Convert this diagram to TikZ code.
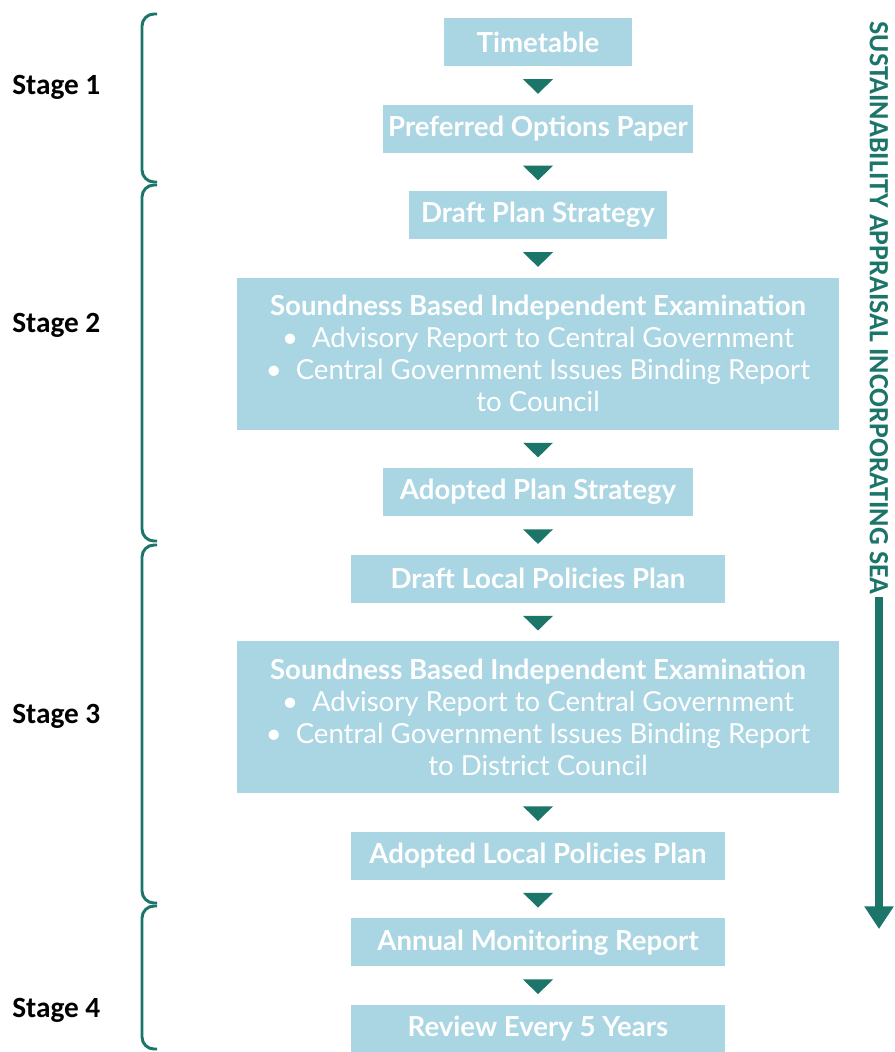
\documentclass[tikz,border=0pt]{standalone}
\usepackage{fontspec}
\setmainfont{Lato}
\newfontfamily\stagefont{Carlito}
\usepackage{tikz}
\usetikzlibrary{positioning,shapes.geometric,arrows.meta}
\definecolor{boxblue}{RGB}{170,213,227}
\definecolor{seateal}{RGB}{27,117,104}
\tikzset{box node/.style={rectangle,fill=boxblue,text=white,inner sep=0pt,minimum height=36pt,align=center,font=\fontsize{20.7}{24}\selectfont\bfseries},
exam node/.style={box node,minimum width=451pt,minimum height=114pt,font=\fontsize{20.7}{24}\selectfont},
flow node/.style={isosceles triangle,isosceles triangle stretches,shape border rotate=270,fill=seateal,inner sep=0pt,minimum width=22.5pt,minimum height=11pt},
stage node/.style={anchor=west,inner sep=0pt,font=\stagefont\bfseries\fontsize{22}{26}\selectfont},
sea node/.style={rotate=-90,inner sep=2pt,text=seateal,font=\stagefont\bfseries\fontsize{20.9}{24}\selectfont},
bracket/.style={draw=seateal,line width=2.2pt,rounded corners=9pt},
}

\begin{document}
\begin{tikzpicture}[x=0.75pt,y=-0.75pt]
\useasboundingbox (0,0) rectangle (894,1052);

% flow boxes
\node[box node,minimum width=141pt] (timetable) at (538,42) {Timetable};
\node[box node,minimum width=233pt] (options) [below=28.5pt of timetable] {Preferred Options Paper};
\node[box node,minimum width=193pt] (draftplan) [below=28.5pt of options] {Draft Plan Strategy};
\node[exam node] (exam1) [below=28.5pt of draftplan] {\textbf{Soundness Based Independent Examination}\\
	\textbullet\enspace Advisory Report to Central Government\\
	\textbullet\enspace Central Government Issues Binding Report\\
	to Council};
\node[box node,minimum width=232pt] (adoptplan) [below=28.5pt of exam1] {Adopted Plan Strategy};
\node[box node,minimum width=281pt] (draftlocal) [below=28.5pt of adoptplan] {Draft Local Policies Plan};
\node[exam node] (exam2) [below=28.5pt of draftlocal] {\textbf{Soundness Based Independent Examination}\\
	\textbullet\enspace Advisory Report to Central Government\\
	\textbullet\enspace Central Government Issues Binding Report\\
	to District Council};
\node[box node,minimum width=281pt] (adoptlocal) [below=28.5pt of exam2] {Adopted Local Policies Plan};
\node[box node,minimum width=281pt] (monitor) [below=28.5pt of adoptlocal] {Annual Monitoring Report};
\node[box node,minimum width=281pt] (review) [below=28.5pt of monitor] {Review Every 5 Years};

\foreach \a/\b in {timetable/options,options/draftplan,draftplan/exam1,exam1/adoptplan,adoptplan/draftlocal,draftlocal/exam2,exam2/adoptlocal,adoptlocal/monitor,monitor/review}
	\path (\a) -- node[flow node] {} (\b);

% stages
\node[stage node] (stage1) at (12,87) {Stage 1};
\node[stage node] (stage2) at (12,325) {Stage 2};
\node[stage node] (stage3) at (12,716) {Stage 3};
\node[stage node] (stage4) at (12,1010) {Stage 4};
\foreach \ytop/\ybot in {14/182,185/541,545/903,906/1049}
	\draw[bracket] (157,\ytop) -- (142,\ytop) -- (142,\ybot) -- (157,\ybot);

% sustainability appraisal
\node[sea node] (sea) at (879,308) {SUSTAINABILITY APPRAISAL INCORPORATING SEA};
\coordinate (seaend) at (879,929);
\draw[seateal,line width=6pt,-{Triangle[width=21pt,length=17pt]}] (sea.east -| seaend) -- (seaend);
\end{tikzpicture}
\end{document}
